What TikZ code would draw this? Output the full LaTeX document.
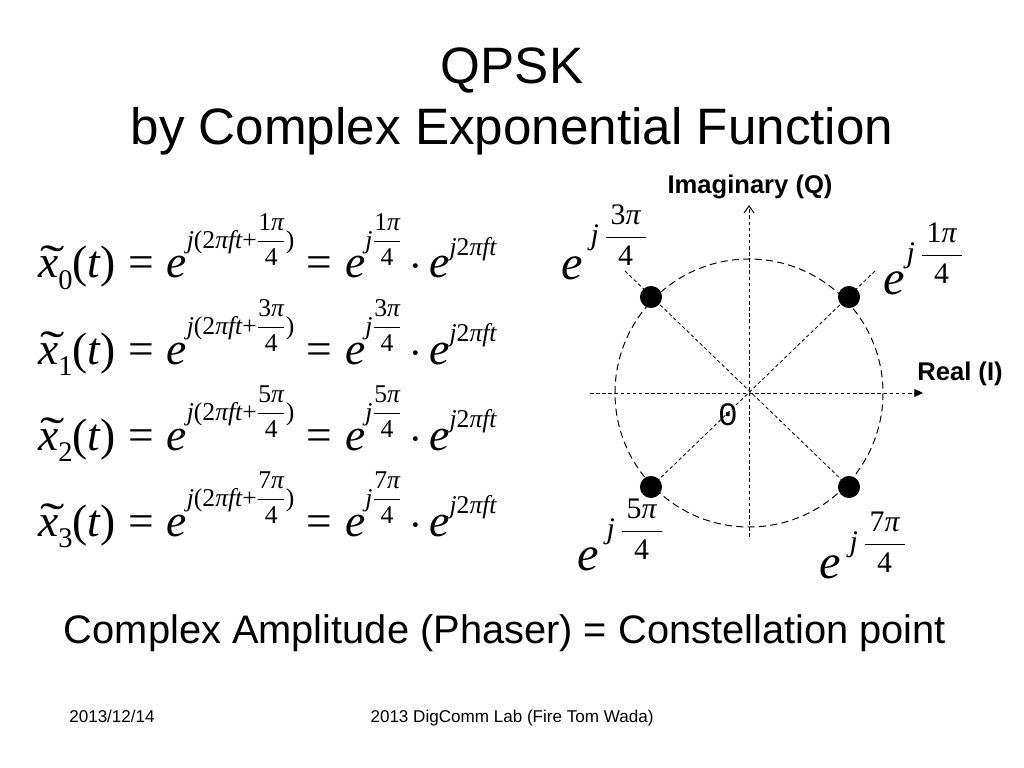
\RequirePackage{fix-cm}
\documentclass[tikz,border=0pt]{standalone}
\usepackage{graphicx}
\usepackage[no-math]{fontspec}
\setmainfont{Liberation Sans}
\newfontfamily\serifx[NFSSFamily=lsr]{Liberation Serif}
\newfontfamily\monox{Liberation Mono}
\DeclareSymbolFont{operators}{TU}{lsr}{m}{n}
\DeclareSymbolFont{letters}{TU}{lsr}{m}{it}
\Umathchardef\mypi="0 \symletters "03C0
\usetikzlibrary{arrows.meta}
\newcommand{\dfr}[2]{{\displaystyle\frac{#1}{#2}}}
\newcommand{\smallm}[1]{{\fontsize{18}{20}\selectfont$#1$}}
\newcommand{\tld}{\rlap{\hspace{1.5pt}\raisebox{1pt}{\scalebox{1.6}[1.0]{\serifx\char"02DC}}}}
\newcommand{\qrow}[2]{%
\tld$x$\raisebox{-8pt}{\fontsize{20}{22}\selectfont$#1$}$(t)=e$%
\raisebox{21pt}{\smallm{j(2\mypi ft{+}\dfr{#2\mypi}{4})}}%
${}={}e$\raisebox{21pt}{\smallm{j\dfr{#2\mypi}{4}}}%
$\,{\cdot}\,e$\raisebox{16pt}{\smallm{j2\mypi ft}}}
\newcommand{\cexp}[1]{$j\,\dfr{\,#1\mypi\,}{4}$}
\tikzset{
  title/.style={font=\fontsize{36}{40}\selectfont, inner sep=0pt},
  eqn/.style={font=\fontsize{32}{38}\selectfont, inner sep=0pt},
  bige/.style={font=\fontsize{34}{40}\selectfont, inner sep=0pt},
  expo/.style={font=\fontsize{21}{24}\selectfont, inner sep=0pt},
  axislab/.style={font=\fontsize{18}{20}\selectfont\bfseries, inner sep=0pt},
  subtitle/.style={font=\fontsize{28}{32}\selectfont, inner sep=0pt},
  footer/.style={font=\fontsize{12}{14}\selectfont, inner sep=0pt, anchor=base},
  dot/.style={circle, fill=black, minimum size=15.5pt, inner sep=0pt},
  axisline/.style={line width=0.7pt, dash pattern=on 2.5pt off 1.8pt},
  diag/.style={line width=0.6pt, dash pattern=on 2.5pt off 1.8pt},
  ring/.style={line width=0.7pt, dash pattern=on 5pt off 3pt},
}
\begin{document}
\begin{tikzpicture}[x=0.703125pt, y=-0.703125pt]
\useasboundingbox[fill=white] (0,0) rectangle (1024,768);
% title
\node[title, anchor=base] (t1) at (512,84) {QPSK};
\node[title, anchor=base] (t2) at (512,145) {by Complex Exponential Function};
% equations
\node[eqn, anchor=base west] (eq0) at (38,278) {\qrow{0}{1}};
\node[eqn, anchor=base west] (eq1) at (38,364) {\qrow{1}{3}};
\node[eqn, anchor=base west] (eq2) at (38,450) {\qrow{2}{5}};
\node[eqn, anchor=base west] (eq3) at (38,536) {\qrow{3}{7}};
% constellation
\coordinate (o) at (749,393);
\coordinate (p1) at (849,297);
\coordinate (p3) at (651,297);
\coordinate (p5) at (651,487);
\coordinate (p7) at (849,487);
\coordinate (x1) at (875,271);
\coordinate (x3) at (625,271);
\coordinate (vb) at (749,537);
\coordinate (vt) at (749,205);
\coordinate (hl) at (590,393);
\coordinate (hr) at (923,393);
\draw[ring] (o) circle (134);
\draw[diag] (x3) -- (p7);
\draw[diag] (x1) -- (p5);
\draw[axisline, -{Straight Barb[length=5pt,width=7pt,line width=0.7pt]}] (vb) -- (vt);
\draw[axisline, -{Triangle[length=6pt,width=5.5pt]}] (hl) -- (hr);
\node[dot] (d1) at (p1) {};
\node[dot] (d3) at (p3) {};
\node[dot] (d5) at (p5) {};
\node[dot] (d7) at (p7) {};
\node[axislab] (im) at (750,187) {Imaginary (Q)};
\node[axislab] (re) at (960,374) {Real (I)};
\node[font=\monox\fontsize{23}{25}\selectfont, inner sep=0pt] (zero) at (728,415) {0};
% labels
\node[bige] (e3) at (572,268) {$e$};
\node[expo] (x3l) at (619,235) {\cexp{3}};
\node[bige] (e1) at (894,283) {$e$};
\node[expo] (x1l) at (935,253) {\cexp{1}};
\node[bige] (e5) at (588,559) {$e$};
\node[expo] (x5l) at (635,529) {\cexp{5}};
\node[bige] (e7) at (830,567) {$e$};
\node[expo] (x7l) at (878,542) {\cexp{7}};
% bottom texts
\node[subtitle, anchor=base] (sub) at (505,643) {Complex Amplitude (Phaser) = Constellation point};
\node[footer] (date) at (112,722) {2013/12/14};
\node[footer] (lab) at (512,722) {2013 DigComm Lab (Fire Tom Wada)};
\end{tikzpicture}
\end{document}
